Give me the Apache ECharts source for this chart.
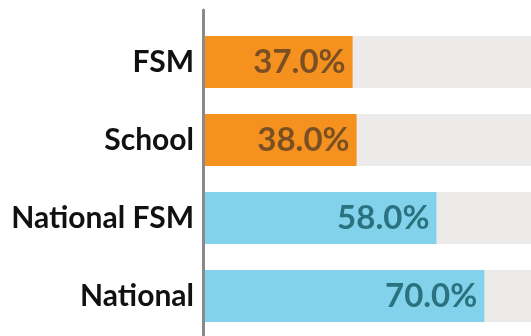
<!DOCTYPE html>
<html>
<head>
<meta charset="utf-8">
<script src="https://cdn.jsdelivr.net/npm/echarts@6/dist/echarts.min.js"></script>
<style>
  html, body { margin: 0; padding: 0; background: #ffffff; }
  #chart { width: 531px; height: 336px; }
</style>
</head>
<body>
<div id="chart"></div>
<script>
// Share of pupils, by group
const categories = ['FSM', 'School', 'National FSM', 'National'];
const values = [37.0, 38.0, 58.0, 70.0];
const fullScale = [100, 100, 100, 100];
const barColors = ['#f5921f', '#f5921f', '#81d2ea', '#81d2ea'];
const labelColors = ['#7a4f23', '#7a4f23', '#2b727f', '#2b727f'];

const FONT = 'Lato';

const chart = echarts.init(document.getElementById('chart'), null, { renderer: 'canvas' });

chart.setOption({
  animation: false,
  backgroundColor: '#ffffff',
  grid: [
    // the 0-100 scale runs past the right edge of the canvas
    { left: 205, top: 23, width: 399, height: 312, containLabel: false, outerBoundsMode: 'none' },
    // frame for the vertical divider running the full height
    { left: 203.5, top: 10, width: 1, bottom: 0, containLabel: false, outerBoundsMode: 'none' }
  ],
  xAxis: [
    { gridIndex: 0, type: 'value', min: 0, max: 100, show: false },
    { gridIndex: 1, type: 'value', min: 0, max: 1, show: false }
  ],
  yAxis: [
    {
      gridIndex: 0,
      type: 'category',
      data: categories,
      inverse: true,
      axisLine: { show: false },
      axisTick: { show: false },
      axisLabel: {
        margin: 11,
        fontFamily: FONT,
        fontWeight: 'bold',
        fontSize: 30,
        color: '#111111'
      }
    },
    {
      gridIndex: 1,
      type: 'category',
      data: [''],
      axisLine: { show: true, lineStyle: { color: '#8a8a8a', width: 3 } },
      axisTick: { show: false },
      axisLabel: { show: false }
    }
  ],
  series: [
    {
      type: 'bar',
      xAxisIndex: 0,
      yAxisIndex: 0,
      data: fullScale,
      barWidth: 52,
      barGap: '-100%',
      silent: true,
      itemStyle: { color: '#ecebe9' },
      z: 1
    },
    {
      type: 'bar',
      xAxisIndex: 0,
      yAxisIndex: 0,
      barWidth: 52,
      z: 3,
      data: values.map((v, i) => ({
        value: v,
        itemStyle: { color: barColors[i] },
        label: { color: labelColors[i] }
      })),
      label: {
        show: true,
        position: 'insideRight',
        distance: 7,
        fontFamily: FONT,
        fontWeight: 'bold',
        fontSize: 33,
        formatter: p => p.value.toFixed(1) + '%'
      }
    }
  ]
});
</script>
</body>
</html>
